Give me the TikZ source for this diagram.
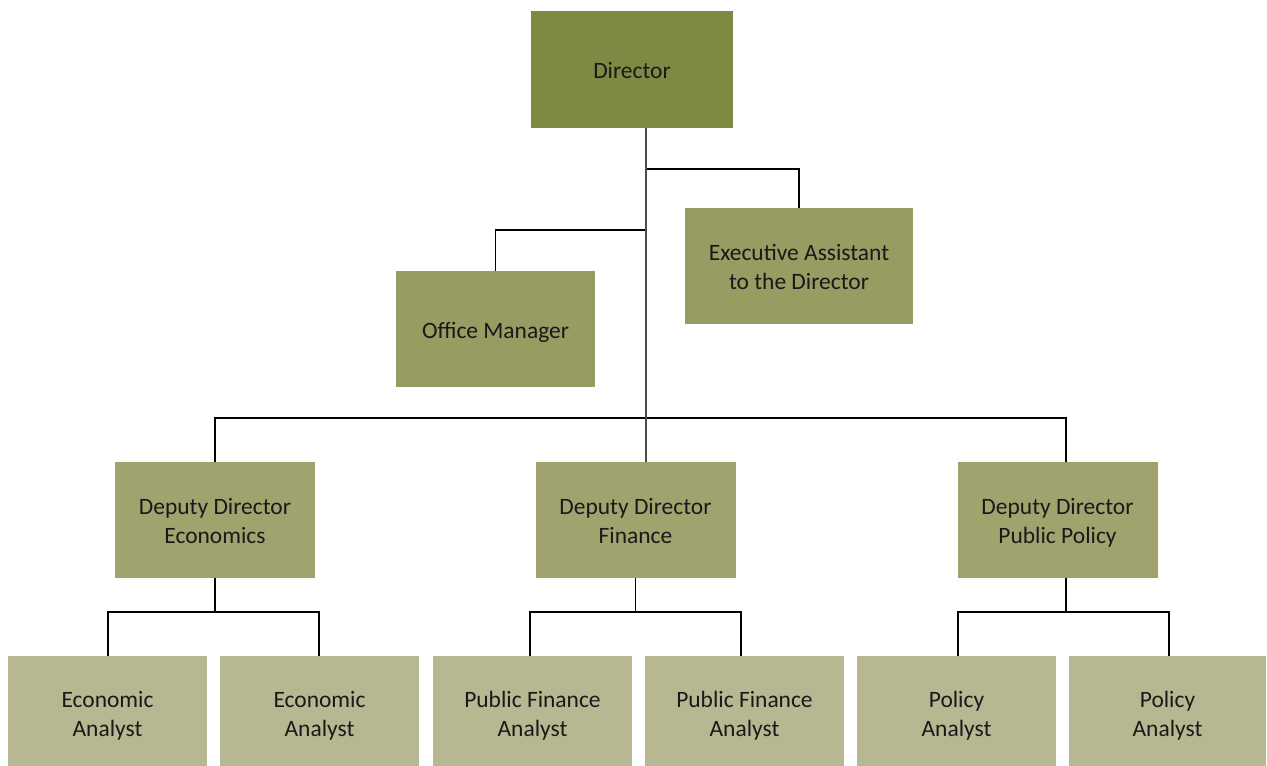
\documentclass[tikz,border=0pt]{standalone}
\usepackage{fontspec}
\setmainfont{Carlito}
\usepackage{tikz}

\definecolor{topgreen}{HTML}{7F8944}
\definecolor{staffgreen}{HTML}{969C62}
\definecolor{deputygreen}{HTML}{A1A36E}
\definecolor{analystgreen}{HTML}{B7B892}

\begin{document}
\begin{tikzpicture}
  [x=0.75pt,y=-0.75pt,every node/.style={inner sep=0pt,align=center,
   font=\fontsize{17.6}{21.5}\selectfont,text=black!90,
   text height=16pt,text depth=2.4pt}]

  \tikzstyle{twoline} = [text height=37.5pt]
  \tikzstyle{chief}   = [fill=topgreen,minimum width=151.5pt,minimum height=87.75pt]
  \tikzstyle{staff}   = [fill=staffgreen,minimum height=87pt]
  \tikzstyle{deputy}  = [fill=deputygreen,twoline,minimum width=150pt,minimum height=87pt]
  \tikzstyle{analyst} = [fill=analystgreen,twoline,minimum width=149.25pt,minimum height=85.5pt]
  \tikzstyle{link}    = [line width=1.1pt,black]
  \tikzstyle{trunk}   = [line width=1.5pt,black!70]

  \clip (0,0) rectangle (1267,766);

  \node[chief]                                  (dir) at (632,69.5) {Director};
  \node[staff,minimum width=149.25pt]           (om)  at (495.5,329) {Office Manager};
  \node[staff,twoline,minimum width=171pt]      (ea)  at (799,266) {Executive Assistant\\to the Director};

  \node[deputy] (dde) at (215,520)    {Deputy Director\\Economics};
  \node[deputy] (ddf) at (635.5,520)  {Deputy Director\\Finance};
  \node[deputy] (ddp) at (1057.5,520) {Deputy Director\\Public Policy};

  \node[analyst] (ea1) at (107.5,713)  {Economic\\Analyst};
  \node[analyst] (ea2) at (319.5,713)  {Economic\\Analyst};
  \node[analyst] (pf1) at (532.5,713)  {Public Finance\\Analyst};
  \node[analyst] (pf2) at (744.5,713)  {Public Finance\\Analyst};
  \node[analyst] (pa1) at (956.5,713)  {Policy\\Analyst};
  \node[analyst,minimum width=147.75pt] (pa2) at (1167.5,713) {Policy\\Analyst};

  \coordinate (top)  at (646,128);
  \coordinate (jea)  at (646,169);
  \coordinate (jom)  at (646,230);
  \coordinate (jdd)  at (646,418);
  \coordinate (bot)  at (646,462);
  \coordinate (be)   at (215,612);
  \coordinate (bf)   at (635.5,612);
  \coordinate (bp)   at (1066,612);

  \draw[link] (jea) -| (ea.north);
  \draw[link] (jom) -| (om.north);
  \draw[link] (dde.north) |- (jdd) -| (ddp.north -| bp);

  \draw[link] (dde.south) -- (be);
  \draw[link] (ea1.north -| 108,0) |- (be) -| (ea2.north -| 319,0);
  \draw[link] (ddf.south) -- (bf);
  \draw[link] (pf1.north -| 530,0) |- (bf) -| (pf2.north -| 741,0);
  \draw[link] (ddp.south -| bp) -- (bp);
  \draw[link] (pa1.north -| 958,0) |- (bp) -| (pa2.north -| 1169,0);

  \draw[trunk] (top) -- (bot);
\end{tikzpicture}
\end{document}
